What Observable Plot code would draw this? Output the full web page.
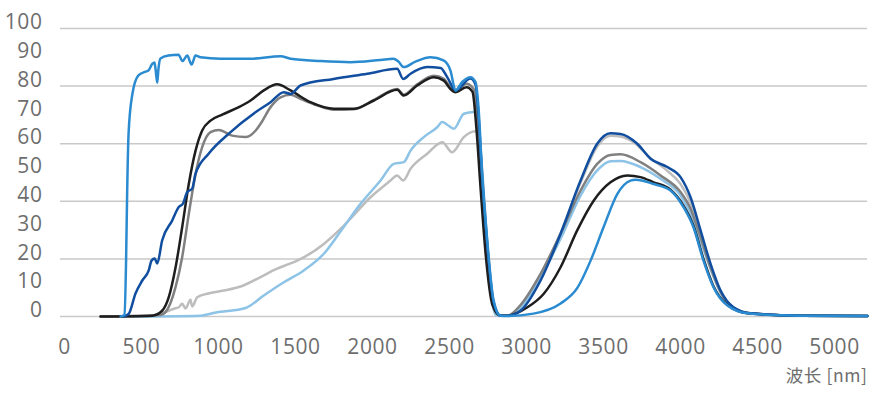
<!DOCTYPE html>
<html><head><meta charset="utf-8">
<script src="https://cdn.jsdelivr.net/npm/d3@7"></script>
<script src="https://cdn.jsdelivr.net/npm/@observablehq/plot@0.6"></script>
<style>
body{margin:0;background:#fff;}
#chart svg text{letter-spacing:0.6px;}
</style>
</head><body><div id="chart"></div>
<script>
// Wavelength tick labels and value ticks
const xTicks = [0, 500, 1000, 1500, 2000, 2500, 3000, 3500, 4000, 4500, 5000];
const yTicks = [0, 10, 20, 30, 40, 50, 60, 70, 80, 90, 100];
const yGrid = [0, 20, 40, 60, 80, 100];
const xLabel = "波长 [nm]";

// Series 1 (bright blue)
const s1Wl = [364,390,400,407,416,440,480,526,545,571,584,591,602,610,623,675,740,766,797,825,851,883,1013,1208,1403,1468,1662,1857,2052,2136,2169,2201,2279,2377,2461,2506,2539,2584,2636,2669,2688,2712,2745,2786,2831,2877,3045,3221,3331,3416,3500,3591,3675,3708,3825,3935,4019,4084,4149,4214,4305,4435,4779,5214];
const s1Val = [0,0.5,20,43.75,63.5,77,83.7,85,85.4,87.8,88.2,86,81.2,86,89.6,90.6,90.9,88.7,90.6,87.5,90.6,90,89.5,89.5,90.4,89.5,88.7,88.3,89.1,89.5,88.5,86.6,88.5,90,88.9,85.4,78.5,81.5,83.1,81.4,72.7,49.6,26.4,5.6,0.3,0.2,1,4.5,10,19.4,31,42.7,47.2,47.5,46,43.75,38,31,19.4,10.2,3.8,1.1,0.3,0.2];

// Series 2 (dark blue)
const s2Wl = [385,418,461,505,547,565,586,602,634,699,742,768,797,829,851,937,1067,1240,1338,1424,1468,1532,1747,1966,2160,2199,2247,2355,2442,2485,2539,2636,2669,2688,2712,2745,2786,2831,2877,2961,3091,3221,3351,3459,3545,3610,3719,3805,3914,4000,4065,4130,4195,4260,4344,4455,4779,5214];
const s2Val = [0,1,8,12.5,16,19.4,20.1,18.4,26.4,33.3,38,39.1,43.2,44.4,49.6,56.6,63.5,70.9,74.4,77.9,77.3,80.2,82.5,84.3,86,82.5,84.3,86.6,86.3,83.1,78.5,82.6,80.5,70,48,25,5,0.3,0.3,2,12.5,28.7,47.2,60,63.6,63.4,60,54.8,51.9,48.4,41.4,29.9,18.3,9,3.2,1.1,0.3,0.2];

// Series 3 (black)
const s3Wl = [234,570,634,677,721,764,807,851,894,948,1024,1132,1208,1294,1381,1468,1597,1749,1879,2009,2160,2203,2290,2398,2463,2506,2539,2610,2649,2675,2701,2734,2779,2831,2877,3006,3112,3221,3329,3437,3545,3654,3740,3825,3935,4019,4084,4149,4214,4305,4435,4779,5214];
const s3Val = [0,0.3,2,6.7,17,31,46,57.6,64.6,68,70.1,72.7,75,78.5,80.6,78.5,74.4,72.1,72.1,75,78.7,76.7,80.2,83.1,81.9,79,77.9,79.6,78,65,45,22,4,0.3,0.3,3.2,7.9,17.1,29.9,40.3,46.6,49,48.4,46.6,44,38.5,31.5,20,10.5,4,1.2,0.3,0.2];

// Series 4 (grey)
const s4Wl = [234,623,656,721,764,807,851,894,948,1002,1089,1175,1240,1273,1338,1403,1468,1532,1641,1749,1879,2009,2160,2203,2290,2398,2463,2506,2539,2610,2656,2682,2708,2740,2786,2831,2877,2961,3091,3221,3351,3459,3545,3610,3740,3870,4000,4065,4130,4195,4260,4344,4455,4779,5214];
const s4Val = [0,0.5,1.5,10.2,20.6,35.6,49.5,58.8,64,64.8,62.8,62.3,64.5,66.9,72.7,76.1,77,75.6,73.3,71.8,72,75.2,79,77,80.6,83.6,82.5,79.5,78.2,80.8,79,65,45,22,4,0.3,0.3,4,14.8,28.7,43.75,53,56.1,56.3,53.6,49,43.2,37.4,27.5,17,8.5,3,1,0.3,0.2];

// Series 5 (light grey)
const s5Wl = [234,558,623,677,709,742,764,786,818,829,862,927,1034,1143,1251,1381,1446,1511,1684,1792,1857,1987,2117,2160,2199,2247,2355,2453,2517,2593,2669,2701,2729,2766,2799,2831,2877,2961,3091,3221,3351,3459,3545,3610,3695,3805,3916,4000,4065,4130,4195,4260,4344,4455,4779,5214];
const s5Val = [0,0.3,1,2,2.7,3.2,4.4,2.8,5.8,3.5,6.7,7.9,9,10.4,13.1,16.6,18,19.4,25.2,30.4,34,41.4,47.2,49,47.2,51.3,56.5,60.5,57,62.3,64.3,57.6,38,10.2,1,0.3,0.3,3.5,14.5,29,46.5,59,62.8,62.5,60.5,55,50.5,46,39.5,28.5,17.5,8.7,3,1,0.3,0.2];

// Series 6 (light blue)
const s6Wl = [429,883,992,1078,1186,1294,1424,1554,1684,1792,1922,2052,2138,2203,2247,2333,2420,2453,2487,2528,2593,2658,2690,2712,2745,2777,2799,2831,2877,2961,3091,3221,3351,3459,3545,3610,3740,3870,4000,4065,4130,4195,4260,4344,4455,4779,5214];
const s6Val = [0,0.3,1.5,2,3.2,7.3,11.9,16,21.8,29.5,39.1,47.2,53,53.6,57.6,62.3,65.7,67.5,66.5,65.2,70.4,71,65.7,49.6,24,5.6,0.5,0.3,0.3,3,13.6,27,42,50.7,53.9,54,51.9,47.8,42,35.6,26.4,16.5,8.3,3,1,0.3,0.2];

const series = [
  {wl: s5Wl, val: s5Val, color: "#bdbdbd"},
  {wl: s6Wl, val: s6Val, color: "#8cc3e6"},
  {wl: s4Wl, val: s4Val, color: "#808080"},
  {wl: s3Wl, val: s3Val, color: "#1e1e1e"},
  {wl: s2Wl, val: s2Val, color: "#114e9f"},
  {wl: s1Wl, val: s1Val, color: "#2a8bd0"}
];

const fmt = d => String(d);
const lines = series.map(s => Plot.line(s.wl.map((w, i) => ({wl: w, v: s.val[i]})), {
  x: "wl", y: "v", stroke: s.color, strokeWidth: 2.5, curve: "monotone-x"
}));

const chart = Plot.plot({
  width: 872,
  height: 393,
  marginLeft: 60,
  marginRight: 5,
  marginTop: 28,
  marginBottom: 77,
  x: {domain: [-26, 5214]},
  y: {domain: [0, 100]},
  style: {fontFamily: "'Open Sans', sans-serif", fontSize: "21px", color: "#6e6e6e", background: "#fff"},
  marks: [
    Plot.gridY(yGrid, {stroke: "#c9c9c9", strokeOpacity: 1, strokeWidth: 1.5}),
    Plot.axisY(yTicks, {tickSize: 0, tickPadding: 18, dy: -6, label: null, tickFormat: fmt, fontSize: 21}),
    Plot.axisX(xTicks, {tickSize: 0, tickPadding: 23, label: null, tickFormat: fmt, fontSize: 21}),
    ...lines,
    Plot.text([xLabel], {frameAnchor: "bottom-right", dy: 65, fontSize: 17.5, fill: "#6e6e6e", fontFamily: "'Noto Sans CJK SC', sans-serif"})
  ]
});
document.getElementById("chart").appendChild(chart);
</script>
</body></html>
